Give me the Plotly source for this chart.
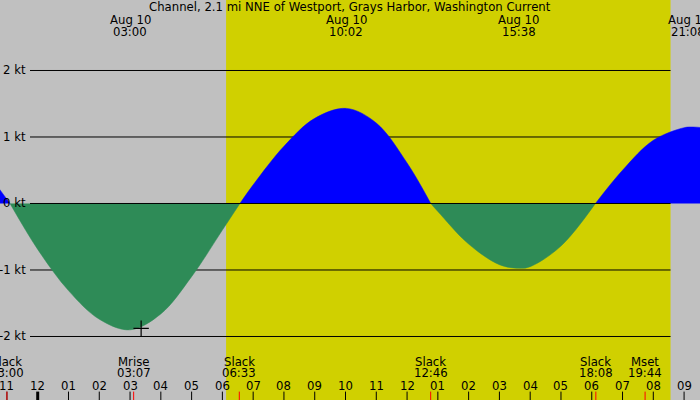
import plotly.graph_objects as go

# hours from midnight, Aug 10
hours = [-1.25, -0.9, 0, 1, 2, 3, 4, 5, 6, 6.57, 7, 8, 9, 10.03, 11, 12, 12.77,
         13, 14, 15, 15.63, 16, 17, 18.12, 19, 20, 21, 21.3, 21.6]
knots = [0.22, 0, -0.69, -1.31, -1.74, -1.90, -1.66, -1.10, -0.40, 0, 0.28, 0.86, 1.28, 1.43, 1.21, 0.61, 0,
         -0.12, -0.61, -0.92, -0.975, -0.95, -0.64, 0, 0.50, 0.95, 1.14, 1.15, 1.14]

grid_kt = [2, 1, 0, -1, -2]
sunrise, sunset = 6.12, 20.56

peak_times = [3.0, 10.03, 15.63, 21.13]
peak_labels = ["03:00", "10:02", "15:38", "21:08"]

event_times = [-1.0, 3.117, 6.55, 12.767, 18.133, 19.733]
event_names = ["Slack", "Mrise", "Slack", "Slack", "Slack", "Mset"]
event_labels = ["23:00", "03:07", "06:33", "12:46", "18:08", "19:44"]

tick_hours = list(range(-1, 22))
marker_t, marker_kt = 3.36, -1.877

title = "Channel, 2.1 mi NNE of Westport, Grays Harbor, Washington Current"

FONT = dict(family="DejaVu Sans", size=11.7, color="black")
GREY = "rgb(192,192,192)"
YELLOW = "rgb(208,208,0)"
BLUE = "rgb(0,0,255)"
GREEN = "rgb(46,139,87)"

fig = go.Figure()

# split the curve into lobes between slack points
zeros = [i for i, v in enumerate(knots) if v == 0]
bounds = [0] + zeros + [len(knots) - 1]
for a, b in zip(bounds[:-1], bounds[1:]):
    if b <= a:
        continue
    seg_x = hours[a:b + 1]
    seg_y = knots[a:b + 1]
    inner = [v for v in seg_y if v != 0]
    col = BLUE if inner and inner[0] > 0 else GREEN
    fig.add_trace(go.Scatter(
        x=seg_x, y=seg_y, mode="lines", fill="tozeroy",
        line=dict(width=0.5, color=col, shape="spline", smoothing=1.0),
        fillcolor=col, hoverinfo="skip", showlegend=False))

fig.add_trace(go.Scatter(
    x=[marker_t], y=[marker_kt], mode="markers",
    marker=dict(symbol="cross-thin", size=11, line=dict(width=1.2, color="black")),
    hoverinfo="skip", showlegend=False))

shapes = []
shapes.append(dict(type="rect", xref="x", yref="paper", x0=sunrise, x1=sunset, y0=0, y1=1,
                   fillcolor=YELLOW, line=dict(width=0), layer="below"))
for k in grid_kt:
    shapes.append(dict(type="line", xref="x", yref="y", x0=-0.25, x1=sunset, y0=k, y1=k,
                       line=dict(color="black", width=1),
                       layer="above" if k == 0 else "below"))

for h in tick_hours:
    shapes.append(dict(type="line", xref="x", yref="paper", x0=h, x1=h, y0=0, y1=0.021,
                       line=dict(color="black", width=3 if h == 0 else 1)))
for t in event_times:
    shapes.append(dict(type="line", xref="x", yref="paper", x0=t, x1=t, y0=0, y1=0.021,
                       line=dict(color="red", width=1)))

ann = []
ann.append(dict(text=title, x=0.5, y=0.982, xref="paper", yref="paper"))
for t, lab in zip(peak_times, peak_labels):
    ann.append(dict(text="Aug 10", x=t, y=0.95, xref="x", yref="paper"))
    ann.append(dict(text=lab, x=t, y=0.921, xref="x", yref="paper"))
for t, nm, lab in zip(event_times, event_names, event_labels):
    ann.append(dict(text=nm, x=t, y=0.0958, xref="x", yref="paper"))
    ann.append(dict(text=lab, x=t, y=0.0668, xref="x", yref="paper"))
for h in tick_hours:
    hh = h % 12
    ann.append(dict(text="%02d" % (12 if hh == 0 else hh), x=h, y=0.0358, xref="x", yref="paper"))
for k in grid_kt:
    ann.append(dict(text="%d kt" % k, x=-0.315, y=k, xref="x", yref="y", xanchor="right"))
for a in ann:
    a.setdefault("xanchor", "center")
    a.update(yanchor="middle", showarrow=False, font=FONT)

fig.update_layout(
    width=700, height=400,
    margin=dict(l=0, r=0, t=0, b=0),
    paper_bgcolor=GREY, plot_bgcolor=GREY,
    xaxis=dict(range=[-1.225, 21.517], visible=False, fixedrange=True),
    yaxis=dict(range=[-2.955, 3.06], visible=False, fixedrange=True),
    shapes=shapes, annotations=ann,
    showlegend=False,
)

fig.write_html("out.html", config={"displayModeBar": False},
               post_script="document.body.style.margin='0';")
